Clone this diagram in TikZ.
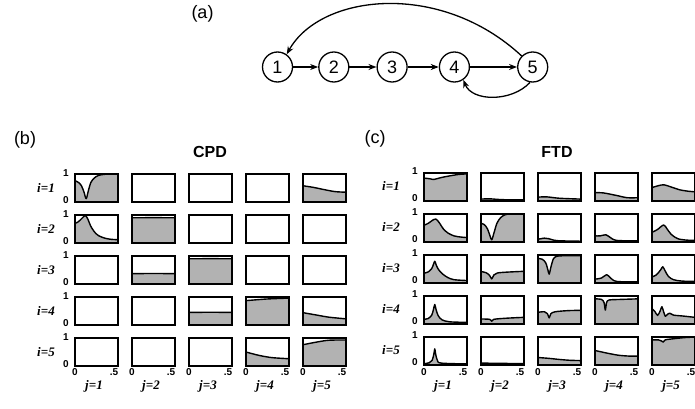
\documentclass[tikz,border=0pt]{standalone}
\usepackage{fontspec}
\setmainfont{Liberation Sans}
\newfontfamily\timesfont{Liberation Serif}
\usepackage{xcolor}
\usepackage{tikz}
\usetikzlibrary{
    positioning,
    arrows.meta
}
\definecolor{plotgray}{gray}{0.7}
\tikzset{vertex/.style={
    draw,
    circle,
    minimum size=30pt,
    inner sep=0pt,
    line width=1.3pt,
    font=\fontsize{18}{18}\selectfont,
}}
\tikzset{arrow/.style={
    ->,>={Stealth[length=8pt,width=6pt]},
    line width=1.3pt,
}}
\tikzset{cellbox/.style={
    draw,
    line width=2pt,
}}
\tikzset{curve/.style={
    line width=1.4pt,
    line join=round,
}}
\tikzset{curvefill/.style={
    fill=plotgray,
}}
\tikzset{ticklabel/.style={
    inner sep=0pt,
    font=\fontsize{10}{10}\selectfont\bfseries,
}}
\tikzset{rowlabel/.style={
    inner sep=0pt,
    font=\timesfont\fontsize{13}{13}\selectfont\bfseries\itshape,
}}
\tikzset{panellabel/.style={
    inner sep=0pt,
    font=\fontsize{18}{18}\selectfont,
}}
\tikzset{paneltitle/.style={
    inner sep=0pt,
    font=\fontsize{16}{16}\selectfont\bfseries,
}}

% #1,#2: left and top of the first cell, #3: row, #4: column, #5: curve
\newcommand{\plotcell}[5]{%
    \begin{scope}[shift={({(#1+57*(#4-1))*1pt},{(380-#2-41*(#3-1))*1pt})}, x=43pt, y=28pt]
        \fill[curvefill] (0,0) -- plot[smooth, tension=0.5] coordinates {#5} -- (1,0) -- cycle;
        \draw[curve] plot[smooth, tension=0.5] coordinates {#5};
        \draw[cellbox] (0,0) rectangle (1,1);
    \end{scope}}
\newcommand{\cpdcell}[3]{\plotcell{75}{174}{#1}{#2}{#3}}
\newcommand{\ftdcell}[3]{\plotcell{424}{172.5}{#1}{#2}{#3}}
\newcommand{\flatzero}{(0,0) (0.5,0) (1,0)}

\begin{document}
\begin{tikzpicture}[x=1pt, y=1pt]
    \useasboundingbox (0,0) rectangle (695,408);

    % (a) graph
    \node[panellabel] (lbla) at (202.5,394.5) {(a)};
    \node[vertex] (n1) at (277.5,341) {1};
    \node[vertex, right=25pt of n1] (n2) {2};
    \node[vertex, right=27pt of n2] (n3) {3};
    \node[vertex, right=31pt of n3] (n4) {4};
    \node[vertex, right=47pt of n4] (n5) {5};
    \draw[arrow] (n1) -- (n2);
    \draw[arrow] (n2) -- (n3);
    \draw[arrow] (n3) -- (n4);
    \draw[arrow] (n4) -- (n5);
    \draw[arrow] (n5.135) .. controls (440,428) and (320,414) .. (n1.54);
    \draw[arrow] (n5.-100) .. controls (512,306) and (472,306) .. (n4.-55);

    % (b) CPD
    \node[panellabel] (lblb) at (25,268) {(b)};
    \node[paneltitle] (ttlcpd) at (210,256) {CPD};
    \cpdcell{1}{1}{(0,0.76) (0.08,0.7) (0.15,0.58) (0.21,0.35) (0.26,0.12) (0.31,0.4) (0.37,0.7) (0.45,0.86) (0.55,0.95) (0.7,0.99) (1,0.99)}
    \cpdcell{1}{2}{\flatzero}
    \cpdcell{1}{3}{\flatzero}
    \cpdcell{1}{4}{\flatzero}
    \cpdcell{1}{5}{(0,0.58) (0.25,0.52) (0.5,0.44) (0.75,0.37) (1,0.35)}
    \cpdcell{2}{1}{(0,0.7) (0.08,0.76) (0.16,0.88) (0.24,0.98) (0.3,0.85) (0.36,0.62) (0.45,0.4) (0.55,0.26) (0.7,0.17) (0.85,0.13) (1,0.12)}
    \cpdcell{2}{2}{(0,0.9) (0.5,0.905) (1,0.9)}
    \cpdcell{2}{3}{\flatzero}
    \cpdcell{2}{4}{\flatzero}
    \cpdcell{2}{5}{\flatzero}
    \cpdcell{3}{1}{\flatzero}
    \cpdcell{3}{2}{(0,0.37) (0.5,0.375) (1,0.37)}
    \cpdcell{3}{3}{(0,0.9) (0.5,0.905) (1,0.9)}
    \cpdcell{3}{4}{\flatzero}
    \cpdcell{3}{5}{\flatzero}
    \cpdcell{4}{1}{\flatzero}
    \cpdcell{4}{2}{\flatzero}
    \cpdcell{4}{3}{(0,0.45) (0.5,0.455) (1,0.45)}
    \cpdcell{4}{4}{(0,0.87) (0.5,0.93) (1,0.96)}
    \cpdcell{4}{5}{(0,0.44) (0.3,0.36) (0.6,0.28) (1,0.22)}
    \cpdcell{5}{1}{\flatzero}
    \cpdcell{5}{2}{\flatzero}
    \cpdcell{5}{3}{\flatzero}
    \cpdcell{5}{4}{(0,0.5) (0.3,0.38) (0.6,0.3) (1,0.26)}
    \cpdcell{5}{5}{(0,0.76) (0.3,0.85) (0.6,0.92) (1,0.93)}
    \foreach \i in {1,...,5} {
        \node[rowlabel] (cpdrow\i) at (46,{220-41*(\i-1)}) {i=\i};
        \node[ticklabel] (cpdhi\i) at (66,{235-41*(\i-1)}) {1};
        \node[ticklabel] (cpdlo\i) at (66,{208-41*(\i-1)}) {0};
        \node[ticklabel] (cpdxa\i) at ({75+57*(\i-1)},36) {0};
        \node[ticklabel] (cpdxb\i) at ({75+57*(\i-1)+39},36) {.5};
        \node[rowlabel] (cpdcol\i) at ({75+57*(\i-1)+19},22) {j=\i};
    }

    % (c) FTD
    \node[panellabel] (lblc) at (375,269) {(c)};
    \node[paneltitle] (ttlftd) at (557,256) {FTD};
    \ftdcell{1}{1}{(0,0.8) (0.12,0.78) (0.22,0.75) (0.4,0.82) (0.6,0.88) (0.8,0.93) (1,0.95)}
    \ftdcell{1}{2}{(0,0.05) (0.2,0.06) (0.5,0.03) (1,0.02)}
    \ftdcell{1}{3}{(0,0.12) (0.2,0.13) (0.5,0.08) (1,0.05)}
    \ftdcell{1}{4}{(0,0.28) (0.2,0.27) (0.5,0.18) (0.75,0.1) (1,0.1)}
    \ftdcell{1}{5}{(0,0.46) (0.15,0.53) (0.28,0.56) (0.45,0.48) (0.65,0.38) (0.85,0.33) (1,0.31)}
    \ftdcell{2}{1}{(0,0.58) (0.1,0.65) (0.2,0.76) (0.28,0.8) (0.36,0.66) (0.45,0.45) (0.56,0.3) (0.7,0.2) (0.85,0.16) (1,0.14)}
    \ftdcell{2}{2}{(0,0.65) (0.08,0.6) (0.15,0.45) (0.21,0.2) (0.25,0.06) (0.3,0.3) (0.37,0.65) (0.45,0.84) (0.55,0.95) (0.7,0.99) (1,0.99)}
    \ftdcell{2}{3}{(0,0.08) (0.15,0.12) (0.25,0.1) (0.45,0.03) (1,0.01)}
    \ftdcell{2}{4}{(0,0.2) (0.12,0.2) (0.25,0.24) (0.35,0.15) (0.5,0.04) (1,0.02)}
    \ftdcell{2}{5}{(0,0.33) (0.12,0.42) (0.27,0.59) (0.35,0.45) (0.45,0.25) (0.6,0.1) (0.8,0.05) (1,0.04)}
    \ftdcell{3}{1}{(0,0.33) (0.1,0.38) (0.18,0.5) (0.22,0.65) (0.25,0.76) (0.28,0.64) (0.33,0.48) (0.42,0.32) (0.55,0.18) (0.7,0.1) (1,0.07)}
    \ftdcell{3}{2}{(0,0.39) (0.12,0.35) (0.2,0.25) (0.25,0.13) (0.3,0.27) (0.38,0.34) (0.6,0.37) (1,0.4)}
    \ftdcell{3}{3}{(0,0.86) (0.1,0.83) (0.18,0.7) (0.23,0.45) (0.26,0.3) (0.3,0.55) (0.36,0.85) (0.45,0.94) (0.7,0.96) (1,0.96)}
    \ftdcell{3}{4}{(0,0.12) (0.15,0.16) (0.27,0.28) (0.35,0.18) (0.5,0.04) (1,0.02)}
    \ftdcell{3}{5}{(0,0.2) (0.1,0.27) (0.2,0.45) (0.25,0.56) (0.3,0.43) (0.38,0.22) (0.5,0.1) (0.7,0.05) (1,0.04)}
    \ftdcell{4}{1}{(0,0.15) (0.1,0.18) (0.18,0.3) (0.22,0.5) (0.25,0.68) (0.28,0.5) (0.33,0.28) (0.42,0.13) (0.6,0.06) (1,0.04)}
    \ftdcell{4}{2}{(0,0.16) (0.2,0.15) (0.25,0.08) (0.3,0.15) (0.6,0.19) (1,0.22)}
    \ftdcell{4}{3}{(0,0.4) (0.15,0.42) (0.22,0.35) (0.26,0.2) (0.3,0.35) (0.4,0.42) (0.7,0.46) (1,0.47)}
    \ftdcell{4}{4}{(0,0.88) (0.15,0.86) (0.21,0.75) (0.24,0.48) (0.27,0.75) (0.33,0.84) (0.6,0.86) (1,0.88)}
    \ftdcell{4}{5}{(0,0.53) (0.07,0.42) (0.13,0.29) (0.19,0.45) (0.23,0.6) (0.27,0.42) (0.31,0.26) (0.36,0.33) (0.41,0.37) (0.5,0.3) (0.7,0.27) (1,0.22)}
    \ftdcell{5}{1}{(0,0.03) (0.12,0.06) (0.19,0.15) (0.23,0.38) (0.25,0.56) (0.27,0.38) (0.31,0.15) (0.4,0.05) (1,0.02)}
    \ftdcell{5}{2}{(0,0.05) (0.5,0.04) (1,0.03)}
    \ftdcell{5}{3}{(0,0.25) (0.25,0.22) (0.5,0.18) (0.75,0.15) (1,0.14)}
    \ftdcell{5}{4}{(0,0.5) (0.15,0.45) (0.3,0.4) (0.55,0.33) (0.8,0.3) (1,0.3)}
    \ftdcell{5}{5}{(0,0.88) (0.15,0.88) (0.22,0.84) (0.26,0.8) (0.31,0.88) (0.5,0.92) (0.75,0.96) (1,0.98)}
    \foreach \i in {1,...,5} {
        \node[rowlabel] (ftdrow\i) at (391,{222-41*(\i-1)}) {i=\i};
        \node[ticklabel] (ftdhi\i) at (415,{237-41*(\i-1)}) {1};
        \node[ticklabel] (ftdlo\i) at (415,{210-41*(\i-1)}) {0};
        \node[ticklabel] (ftdxa\i) at ({424+57*(\i-1)},36) {0};
        \node[ticklabel] (ftdxb\i) at ({424+57*(\i-1)+39},36) {.5};
        \node[rowlabel] (ftdcol\i) at ({424+57*(\i-1)+19},22) {j=\i};
    }
\end{tikzpicture}
\end{document}
